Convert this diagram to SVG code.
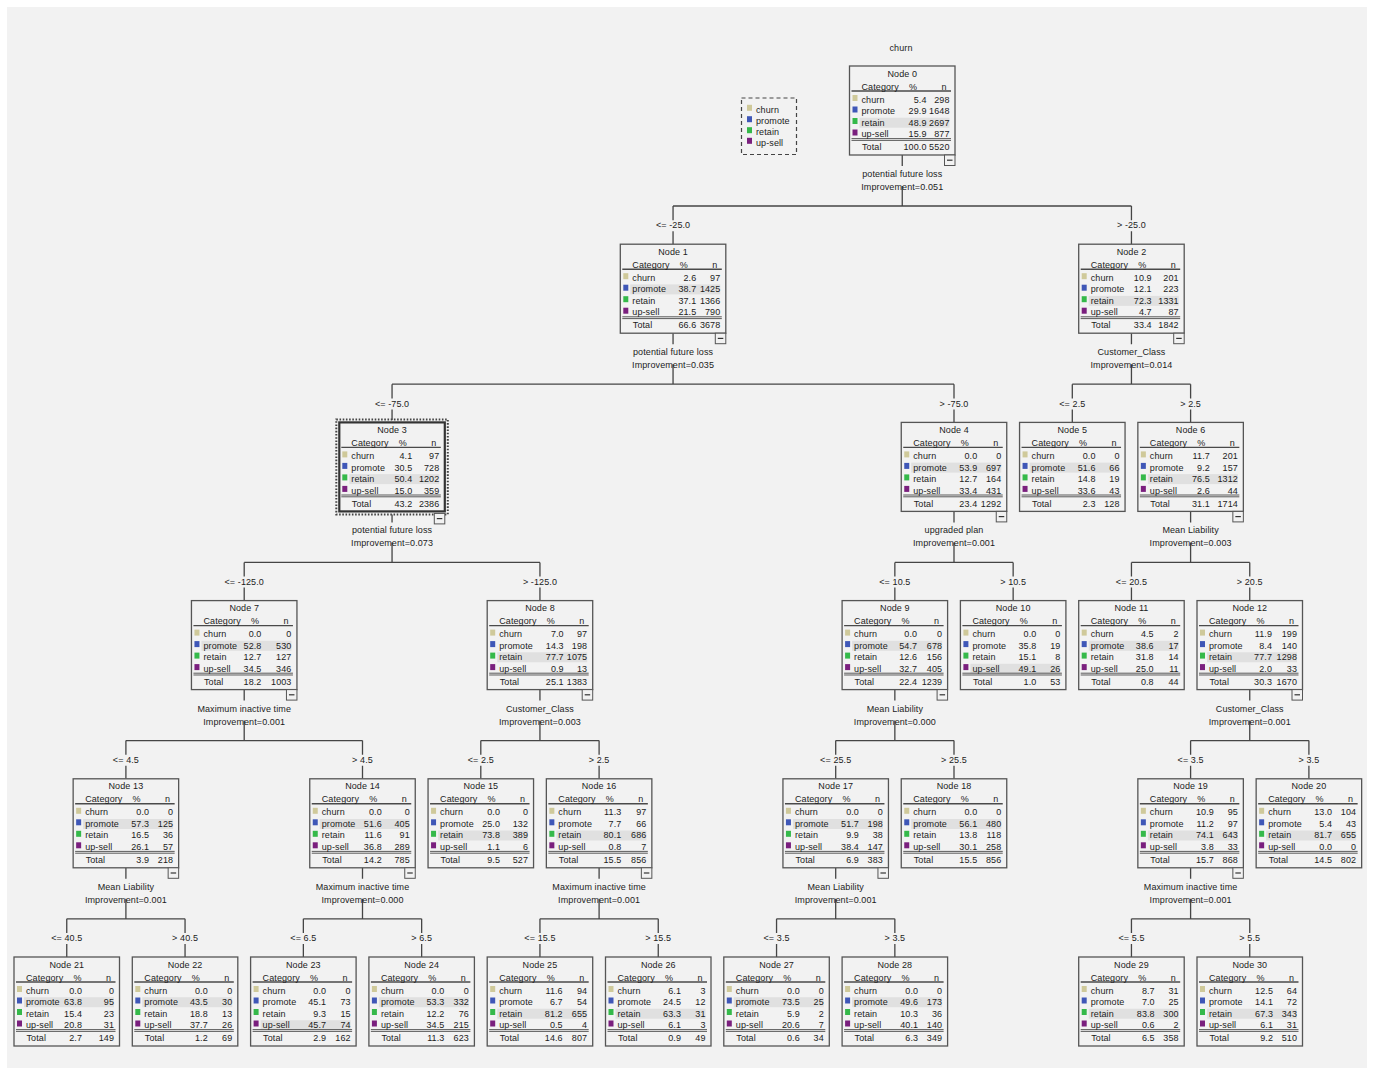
<svg xmlns="http://www.w3.org/2000/svg" xmlns:xlink="http://www.w3.org/1999/xlink" width="1373" height="1075" viewBox="0 0 1373 1075">
<style>
text { font-family: "Liberation Sans", Arial, sans-serif; font-size: 9px; fill: #1c1c1c; letter-spacing: 0.1px; }
.c { text-anchor: middle; }
.e { text-anchor: end; }
.box { fill: #f2f2f2; stroke: #555; stroke-width: 1.3; }
.hl { fill: #e0e0e0; }
.rule { stroke: #4a4a4a; stroke-width: 1.4; fill: none; }
.rule2 { stroke: #4a4a4a; stroke-width: 0.9; fill: none; }
.conn { stroke: #454545; stroke-width: 1.3; fill: none; }
.sw-churn { fill: #cfc99a; }
.sw-promote { fill: #3f57b7; }
.sw-retain { fill: #35b94a; }
.sw-upsell { fill: #7a1f7e; }
</style>
<defs>
  <g id="rules">
    <path class="rule" d="M2 25H101.5"/>
    <path class="rule2" d="M2 72.6H101.5M2 74.4H101.5"/>
  </g>
  <g id="swatches">
    <rect class="sw-churn" x="3" y="29" width="5" height="6"/>
    <rect class="sw-promote" x="3" y="40.5" width="5" height="6"/>
    <rect class="sw-retain" x="3" y="52" width="5" height="6"/>
    <rect class="sw-upsell" x="3" y="63.5" width="5" height="6"/>
  </g>
  <g id="collapse">
    <rect x="0" y="0" width="10.5" height="10.5" fill="#f2f2f2" stroke="#555" stroke-width="1"/>
    <path d="M2.5 5.2H8" stroke="#333" stroke-width="1.2"/>
  </g>
</defs>

<!-- canvas -->
<rect width="1373" height="1075" fill="#ffffff"/>
<rect x="7" y="7" width="1360" height="1061" fill="#f2f2f2"/>

<!-- title and legend -->
<text class="c" x="901" y="50.5">churn</text>
<g id="legend">
  <rect x="741.5" y="98" width="55" height="56.5" fill="none" stroke="#444" stroke-width="1.2" stroke-dasharray="4 3"/>
  <rect class="sw-churn" x="747" y="104.8" width="5" height="6"/>
  <rect class="sw-promote" x="747" y="116.2" width="5" height="6"/>
  <rect class="sw-retain" x="747" y="127.2" width="5" height="6"/>
  <rect class="sw-upsell" x="747" y="137.8" width="5" height="6"/>
  <text x="756" y="112.5">churn</text>
  <text x="756" y="123.9">promote</text>
  <text x="756" y="134.9">retain</text>
  <text x="756" y="145.5">up-sell</text>
</g>

<!-- connectors -->
<g id="connectors">
  <path class="conn" d="M902.25 155V166M902.25 186V206M673.05 206H1131.45M673.05 206V220.2M673.05 231.2V244.2M1131.45 206V220.2M1131.45 231.2V244.2"/>
  <path class="conn" d="M673.05 333.2V344.2M673.05 364.2V384.2M392.05 384.2H954M392.05 384.2V398.4M392.05 409.4V420M954 384.2V398.4M954 409.4V422.4"/>
  <path class="conn" d="M1131.45 333.2V344.2M1131.45 364.2V384.2M1072.3 384.2H1190.6M1072.3 384.2V398.4M1072.3 409.4V422.4M1190.6 384.2V398.4M1190.6 409.4V422.4"/>
  <path class="conn" d="M392.05 514.5V522.4M392.05 542.4V562.4M244.2 562.4H539.95M244.2 562.4V576.6M244.2 587.6V600.6M539.95 562.4V576.6M539.95 587.6V600.6"/>
  <path class="conn" d="M954 511.4V522.4M954 542.4V562.4M894.85 562.4H1013.15M894.85 562.4V576.6M894.85 587.6V600.6M1013.15 562.4V576.6M1013.15 587.6V600.6"/>
  <path class="conn" d="M1190.6 511.4V522.4M1190.6 542.4V562.4M1131.45 562.4H1249.75M1131.45 562.4V576.6M1131.45 587.6V600.6M1249.75 562.4V576.6M1249.75 587.6V600.6"/>
  <path class="conn" d="M244.2 689.6V700.6M244.2 720.6V740.6M125.9 740.6H362.5M125.9 740.6V754.8M125.9 765.8V778.8M362.5 740.6V754.8M362.5 765.8V778.8"/>
  <path class="conn" d="M539.95 689.6V700.6M539.95 720.6V740.6M480.8 740.6H599.1M480.8 740.6V754.8M480.8 765.8V778.8M599.1 740.6V754.8M599.1 765.8V778.8"/>
  <path class="conn" d="M894.85 689.6V700.6M894.85 720.6V740.6M835.7 740.6H954M835.7 740.6V754.8M835.7 765.8V778.8M954 740.6V754.8M954 765.8V778.8"/>
  <path class="conn" d="M1249.75 689.6V700.6M1249.75 720.6V740.6M1190.6 740.6H1308.9M1190.6 740.6V754.8M1190.6 765.8V778.8M1308.9 740.6V754.8M1308.9 765.8V778.8"/>
  <path class="conn" d="M125.9 867.8V878.8M125.9 898.8V918.8M66.75 918.8H185.05M66.75 918.8V933M66.75 944V957M185.05 918.8V933M185.05 944V957"/>
  <path class="conn" d="M362.5 867.8V878.8M362.5 898.8V918.8M303.35 918.8H421.65M303.35 918.8V933M303.35 944V957M421.65 918.8V933M421.65 944V957"/>
  <path class="conn" d="M599.1 867.8V878.8M599.1 898.8V918.8M539.95 918.8H658.25M539.95 918.8V933M539.95 944V957M658.25 918.8V933M658.25 944V957"/>
  <path class="conn" d="M835.7 867.8V878.8M835.7 898.8V918.8M776.55 918.8H894.85M776.55 918.8V933M776.55 944V957M894.85 918.8V933M894.85 944V957"/>
  <path class="conn" d="M1190.6 867.8V878.8M1190.6 898.8V918.8M1131.45 918.8H1249.75M1131.45 918.8V933M1131.45 944V957M1249.75 918.8V933M1249.75 944V957"/>
</g>

<!-- split descriptions and branch conditions -->
<g id="split-labels">
  <text class="c" x="902.25" y="177">potential future loss</text><text class="c" x="902.25" y="190">Improvement=0.051</text>
  <text class="c" x="673.05" y="355.2">potential future loss</text><text class="c" x="673.05" y="368.2">Improvement=0.035</text>
  <text class="c" x="1131.45" y="355.2">Customer_Class</text><text class="c" x="1131.45" y="368.2">Improvement=0.014</text>
  <text class="c" x="392.05" y="533.4">potential future loss</text><text class="c" x="392.05" y="546.4">Improvement=0.073</text>
  <text class="c" x="954" y="533.4">upgraded plan</text><text class="c" x="954" y="546.4">Improvement=0.001</text>
  <text class="c" x="1190.6" y="533.4">Mean Liability</text><text class="c" x="1190.6" y="546.4">Improvement=0.003</text>
  <text class="c" x="244.2" y="711.6">Maximum inactive time</text><text class="c" x="244.2" y="724.6">Improvement=0.001</text>
  <text class="c" x="539.95" y="711.6">Customer_Class</text><text class="c" x="539.95" y="724.6">Improvement=0.003</text>
  <text class="c" x="894.85" y="711.6">Mean Liability</text><text class="c" x="894.85" y="724.6">Improvement=0.000</text>
  <text class="c" x="1249.75" y="711.6">Customer_Class</text><text class="c" x="1249.75" y="724.6">Improvement=0.001</text>
  <text class="c" x="125.9" y="889.8">Mean Liability</text><text class="c" x="125.9" y="902.8">Improvement=0.001</text>
  <text class="c" x="362.5" y="889.8">Maximum inactive time</text><text class="c" x="362.5" y="902.8">Improvement=0.000</text>
  <text class="c" x="599.1" y="889.8">Maximum inactive time</text><text class="c" x="599.1" y="902.8">Improvement=0.001</text>
  <text class="c" x="835.7" y="889.8">Mean Liability</text><text class="c" x="835.7" y="902.8">Improvement=0.001</text>
  <text class="c" x="1190.6" y="889.8">Maximum inactive time</text><text class="c" x="1190.6" y="902.8">Improvement=0.001</text>
</g>
<g id="branch-labels">
  <text class="c" x="673.05" y="228.4">&lt;= -25.0</text><text class="c" x="1131.45" y="228.4">&gt; -25.0</text>
  <text class="c" x="392.05" y="406.6">&lt;= -75.0</text><text class="c" x="954" y="406.6">&gt; -75.0</text>
  <text class="c" x="1072.3" y="406.6">&lt;= 2.5</text><text class="c" x="1190.6" y="406.6">&gt; 2.5</text>
  <text class="c" x="244.2" y="584.8">&lt;= -125.0</text><text class="c" x="539.95" y="584.8">&gt; -125.0</text>
  <text class="c" x="894.85" y="584.8">&lt;= 10.5</text><text class="c" x="1013.15" y="584.8">&gt; 10.5</text>
  <text class="c" x="1131.45" y="584.8">&lt;= 20.5</text><text class="c" x="1249.75" y="584.8">&gt; 20.5</text>
  <text class="c" x="125.9" y="763">&lt;= 4.5</text><text class="c" x="362.5" y="763">&gt; 4.5</text>
  <text class="c" x="480.8" y="763">&lt;= 2.5</text><text class="c" x="599.1" y="763">&gt; 2.5</text>
  <text class="c" x="835.7" y="763">&lt;= 25.5</text><text class="c" x="954" y="763">&gt; 25.5</text>
  <text class="c" x="1190.6" y="763">&lt;= 3.5</text><text class="c" x="1308.9" y="763">&gt; 3.5</text>
  <text class="c" x="66.75" y="941.2">&lt;= 40.5</text><text class="c" x="185.05" y="941.2">&gt; 40.5</text>
  <text class="c" x="303.35" y="941.2">&lt;= 6.5</text><text class="c" x="421.65" y="941.2">&gt; 6.5</text>
  <text class="c" x="539.95" y="941.2">&lt;= 15.5</text><text class="c" x="658.25" y="941.2">&gt; 15.5</text>
  <text class="c" x="776.55" y="941.2">&lt;= 3.5</text><text class="c" x="894.85" y="941.2">&gt; 3.5</text>
  <text class="c" x="1131.45" y="941.2">&lt;= 5.5</text><text class="c" x="1249.75" y="941.2">&gt; 5.5</text>
</g>

<!-- nodes -->
<g id="node-0" transform="translate(849.5 66)">
  <rect class="box" width="105.5" height="89"/><rect class="hl" x="10" y="51.7" width="90" height="10"/>
  <use href="#rules"/><use href="#swatches"/>
  <text class="c" x="52.75" y="10.5">Node 0</text>
  <text><tspan x="12" y="23.5">Category</tspan><tspan x="12" y="36.7">churn</tspan><tspan x="12" y="48.2">promote</tspan><tspan x="12" y="59.7">retain</tspan><tspan x="12" y="71.2">up-sell</tspan><tspan x="12.5" y="84.2">Total</tspan></text>
  <text class="c"><tspan x="63.5" y="23.5">%</tspan><tspan x="94.5" y="23.5">n</tspan></text>
  <text class="e"><tspan x="77" y="36.7">5.4</tspan><tspan x="77" y="48.2">29.9</tspan><tspan x="77" y="59.7">48.9</tspan><tspan x="77" y="71.2">15.9</tspan><tspan x="77" y="84.2">100.0</tspan></text>
  <text class="e"><tspan x="100" y="36.7">298</tspan><tspan x="100" y="48.2">1648</tspan><tspan x="100" y="59.7">2697</tspan><tspan x="100" y="71.2">877</tspan><tspan x="100" y="84.2">5520</tspan></text>
  <use href="#collapse" x="95" y="89"/>
</g>
<g id="node-1" transform="translate(620.3 244.2)">
  <rect class="box" width="105.5" height="89"/><rect class="hl" x="10" y="40.2" width="90" height="10"/>
  <use href="#rules"/><use href="#swatches"/>
  <text class="c" x="52.75" y="10.5">Node 1</text>
  <text><tspan x="12" y="23.5">Category</tspan><tspan x="12" y="36.7">churn</tspan><tspan x="12" y="48.2">promote</tspan><tspan x="12" y="59.7">retain</tspan><tspan x="12" y="71.2">up-sell</tspan><tspan x="12.5" y="84.2">Total</tspan></text>
  <text class="c"><tspan x="63.5" y="23.5">%</tspan><tspan x="94.5" y="23.5">n</tspan></text>
  <text class="e"><tspan x="76" y="36.7">2.6</tspan><tspan x="76" y="48.2">38.7</tspan><tspan x="76" y="59.7">37.1</tspan><tspan x="76" y="71.2">21.5</tspan><tspan x="76" y="84.2">66.6</tspan></text>
  <text class="e"><tspan x="100" y="36.7">97</tspan><tspan x="100" y="48.2">1425</tspan><tspan x="100" y="59.7">1366</tspan><tspan x="100" y="71.2">790</tspan><tspan x="100" y="84.2">3678</tspan></text>
  <use href="#collapse" x="95" y="89"/>
</g>
<g id="node-2" transform="translate(1078.7 244.2)">
  <rect class="box" width="105.5" height="89"/><rect class="hl" x="10" y="51.7" width="90" height="10"/>
  <use href="#rules"/><use href="#swatches"/>
  <text class="c" x="52.75" y="10.5">Node 2</text>
  <text><tspan x="12" y="23.5">Category</tspan><tspan x="12" y="36.7">churn</tspan><tspan x="12" y="48.2">promote</tspan><tspan x="12" y="59.7">retain</tspan><tspan x="12" y="71.2">up-sell</tspan><tspan x="12.5" y="84.2">Total</tspan></text>
  <text class="c"><tspan x="63.5" y="23.5">%</tspan><tspan x="94.5" y="23.5">n</tspan></text>
  <text class="e"><tspan x="73" y="36.7">10.9</tspan><tspan x="73" y="48.2">12.1</tspan><tspan x="73" y="59.7">72.3</tspan><tspan x="73" y="71.2">4.7</tspan><tspan x="73" y="84.2">33.4</tspan></text>
  <text class="e"><tspan x="100" y="36.7">201</tspan><tspan x="100" y="48.2">223</tspan><tspan x="100" y="59.7">1331</tspan><tspan x="100" y="71.2">87</tspan><tspan x="100" y="84.2">1842</tspan></text>
  <use href="#collapse" x="95" y="89"/>
</g>
<g id="node-3" transform="translate(339.3 422.4)">
  <rect x="-3" y="-3" width="111.5" height="95" fill="none" stroke="#444" stroke-width="2" stroke-dasharray="1.6 1.6"/>
  <rect class="box" width="105.5" height="89" style="stroke:#333;stroke-width:2.2"/><rect class="hl" x="10" y="51.7" width="90" height="10"/>
  <use href="#rules"/><use href="#swatches"/>
  <text class="c" x="52.75" y="10.5">Node 3</text>
  <text><tspan x="12" y="23.5">Category</tspan><tspan x="12" y="36.7">churn</tspan><tspan x="12" y="48.2">promote</tspan><tspan x="12" y="59.7">retain</tspan><tspan x="12" y="71.2">up-sell</tspan><tspan x="12.5" y="84.2">Total</tspan></text>
  <text class="c"><tspan x="63.5" y="23.5">%</tspan><tspan x="94.5" y="23.5">n</tspan></text>
  <text class="e"><tspan x="73" y="36.7">4.1</tspan><tspan x="73" y="48.2">30.5</tspan><tspan x="73" y="59.7">50.4</tspan><tspan x="73" y="71.2">15.0</tspan><tspan x="73" y="84.2">43.2</tspan></text>
  <text class="e"><tspan x="100" y="36.7">97</tspan><tspan x="100" y="48.2">728</tspan><tspan x="100" y="59.7">1202</tspan><tspan x="100" y="71.2">359</tspan><tspan x="100" y="84.2">2386</tspan></text>
  <use href="#collapse" x="95" y="91"/>
</g>
<g id="node-4" transform="translate(901.25 422.4)">
  <rect class="box" width="105.5" height="89"/><rect class="hl" x="10" y="40.2" width="90" height="10"/>
  <use href="#rules"/><use href="#swatches"/>
  <text class="c" x="52.75" y="10.5">Node 4</text>
  <text><tspan x="12" y="23.5">Category</tspan><tspan x="12" y="36.7">churn</tspan><tspan x="12" y="48.2">promote</tspan><tspan x="12" y="59.7">retain</tspan><tspan x="12" y="71.2">up-sell</tspan><tspan x="12.5" y="84.2">Total</tspan></text>
  <text class="c"><tspan x="63.5" y="23.5">%</tspan><tspan x="94.5" y="23.5">n</tspan></text>
  <text class="e"><tspan x="76" y="36.7">0.0</tspan><tspan x="76" y="48.2">53.9</tspan><tspan x="76" y="59.7">12.7</tspan><tspan x="76" y="71.2">33.4</tspan><tspan x="76" y="84.2">23.4</tspan></text>
  <text class="e"><tspan x="100" y="36.7">0</tspan><tspan x="100" y="48.2">697</tspan><tspan x="100" y="59.7">164</tspan><tspan x="100" y="71.2">431</tspan><tspan x="100" y="84.2">1292</tspan></text>
  <use href="#collapse" x="95" y="89"/>
</g>
<g id="node-5" transform="translate(1019.55 422.4)">
  <rect class="box" width="105.5" height="89"/><rect class="hl" x="10" y="40.2" width="90" height="10"/>
  <use href="#rules"/><use href="#swatches"/>
  <text class="c" x="52.75" y="10.5">Node 5</text>
  <text><tspan x="12" y="23.5">Category</tspan><tspan x="12" y="36.7">churn</tspan><tspan x="12" y="48.2">promote</tspan><tspan x="12" y="59.7">retain</tspan><tspan x="12" y="71.2">up-sell</tspan><tspan x="12.5" y="84.2">Total</tspan></text>
  <text class="c"><tspan x="63.5" y="23.5">%</tspan><tspan x="94.5" y="23.5">n</tspan></text>
  <text class="e"><tspan x="76" y="36.7">0.0</tspan><tspan x="76" y="48.2">51.6</tspan><tspan x="76" y="59.7">14.8</tspan><tspan x="76" y="71.2">33.6</tspan><tspan x="76" y="84.2">2.3</tspan></text>
  <text class="e"><tspan x="100" y="36.7">0</tspan><tspan x="100" y="48.2">66</tspan><tspan x="100" y="59.7">19</tspan><tspan x="100" y="71.2">43</tspan><tspan x="100" y="84.2">128</tspan></text>
</g>
<g id="node-6" transform="translate(1137.85 422.4)">
  <rect class="box" width="105.5" height="89"/><rect class="hl" x="10" y="51.7" width="90" height="10"/>
  <use href="#rules"/><use href="#swatches"/>
  <text class="c" x="52.75" y="10.5">Node 6</text>
  <text><tspan x="12" y="23.5">Category</tspan><tspan x="12" y="36.7">churn</tspan><tspan x="12" y="48.2">promote</tspan><tspan x="12" y="59.7">retain</tspan><tspan x="12" y="71.2">up-sell</tspan><tspan x="12.5" y="84.2">Total</tspan></text>
  <text class="c"><tspan x="63.5" y="23.5">%</tspan><tspan x="94.5" y="23.5">n</tspan></text>
  <text class="e"><tspan x="72" y="36.7">11.7</tspan><tspan x="72" y="48.2">9.2</tspan><tspan x="72" y="59.7">76.5</tspan><tspan x="72" y="71.2">2.6</tspan><tspan x="72" y="84.2">31.1</tspan></text>
  <text class="e"><tspan x="100" y="36.7">201</tspan><tspan x="100" y="48.2">157</tspan><tspan x="100" y="59.7">1312</tspan><tspan x="100" y="71.2">44</tspan><tspan x="100" y="84.2">1714</tspan></text>
  <use href="#collapse" x="95" y="89"/>
</g>
<g id="node-7" transform="translate(191.45 600.6)">
  <rect class="box" width="105.5" height="89"/><rect class="hl" x="10" y="40.2" width="90" height="10"/>
  <use href="#rules"/><use href="#swatches"/>
  <text class="c" x="52.75" y="10.5">Node 7</text>
  <text><tspan x="12" y="23.5">Category</tspan><tspan x="12" y="36.7">churn</tspan><tspan x="12" y="48.2">promote</tspan><tspan x="12" y="59.7">retain</tspan><tspan x="12" y="71.2">up-sell</tspan><tspan x="12.5" y="84.2">Total</tspan></text>
  <text class="c"><tspan x="63.5" y="23.5">%</tspan><tspan x="94.5" y="23.5">n</tspan></text>
  <text class="e"><tspan x="70" y="36.7">0.0</tspan><tspan x="70" y="48.2">52.8</tspan><tspan x="70" y="59.7">12.7</tspan><tspan x="70" y="71.2">34.5</tspan><tspan x="70" y="84.2">18.2</tspan></text>
  <text class="e"><tspan x="100" y="36.7">0</tspan><tspan x="100" y="48.2">530</tspan><tspan x="100" y="59.7">127</tspan><tspan x="100" y="71.2">346</tspan><tspan x="100" y="84.2">1003</tspan></text>
  <use href="#collapse" x="95" y="89"/>
</g>
<g id="node-8" transform="translate(487.2 600.6)">
  <rect class="box" width="105.5" height="89"/><rect class="hl" x="10" y="51.7" width="90" height="10"/>
  <use href="#rules"/><use href="#swatches"/>
  <text class="c" x="52.75" y="10.5">Node 8</text>
  <text><tspan x="12" y="23.5">Category</tspan><tspan x="12" y="36.7">churn</tspan><tspan x="12" y="48.2">promote</tspan><tspan x="12" y="59.7">retain</tspan><tspan x="12" y="71.2">up-sell</tspan><tspan x="12.5" y="84.2">Total</tspan></text>
  <text class="c"><tspan x="63.5" y="23.5">%</tspan><tspan x="94.5" y="23.5">n</tspan></text>
  <text class="e"><tspan x="76.5" y="36.7">7.0</tspan><tspan x="76.5" y="48.2">14.3</tspan><tspan x="76.5" y="59.7">77.7</tspan><tspan x="76.5" y="71.2">0.9</tspan><tspan x="76.5" y="84.2">25.1</tspan></text>
  <text class="e"><tspan x="100" y="36.7">97</tspan><tspan x="100" y="48.2">198</tspan><tspan x="100" y="59.7">1075</tspan><tspan x="100" y="71.2">13</tspan><tspan x="100" y="84.2">1383</tspan></text>
  <use href="#collapse" x="95" y="89"/>
</g>
<g id="node-9" transform="translate(842.1 600.6)">
  <rect class="box" width="105.5" height="89"/><rect class="hl" x="10" y="40.2" width="90" height="10"/>
  <use href="#rules"/><use href="#swatches"/>
  <text class="c" x="52.75" y="10.5">Node 9</text>
  <text><tspan x="12" y="23.5">Category</tspan><tspan x="12" y="36.7">churn</tspan><tspan x="12" y="48.2">promote</tspan><tspan x="12" y="59.7">retain</tspan><tspan x="12" y="71.2">up-sell</tspan><tspan x="12.5" y="84.2">Total</tspan></text>
  <text class="c"><tspan x="63.5" y="23.5">%</tspan><tspan x="94.5" y="23.5">n</tspan></text>
  <text class="e"><tspan x="75" y="36.7">0.0</tspan><tspan x="75" y="48.2">54.7</tspan><tspan x="75" y="59.7">12.6</tspan><tspan x="75" y="71.2">32.7</tspan><tspan x="75" y="84.2">22.4</tspan></text>
  <text class="e"><tspan x="100" y="36.7">0</tspan><tspan x="100" y="48.2">678</tspan><tspan x="100" y="59.7">156</tspan><tspan x="100" y="71.2">405</tspan><tspan x="100" y="84.2">1239</tspan></text>
  <use href="#collapse" x="95" y="89"/>
</g>
<g id="node-10" transform="translate(960.4 600.6)">
  <rect class="box" width="105.5" height="89"/><rect class="hl" x="10" y="63.2" width="90" height="10"/>
  <use href="#rules"/><use href="#swatches"/>
  <text class="c" x="52.75" y="10.5">Node 10</text>
  <text><tspan x="12" y="23.5">Category</tspan><tspan x="12" y="36.7">churn</tspan><tspan x="12" y="48.2">promote</tspan><tspan x="12" y="59.7">retain</tspan><tspan x="12" y="71.2">up-sell</tspan><tspan x="12.5" y="84.2">Total</tspan></text>
  <text class="c"><tspan x="63.5" y="23.5">%</tspan><tspan x="94.5" y="23.5">n</tspan></text>
  <text class="e"><tspan x="76" y="36.7">0.0</tspan><tspan x="76" y="48.2">35.8</tspan><tspan x="76" y="59.7">15.1</tspan><tspan x="76" y="71.2">49.1</tspan><tspan x="76" y="84.2">1.0</tspan></text>
  <text class="e"><tspan x="100" y="36.7">0</tspan><tspan x="100" y="48.2">19</tspan><tspan x="100" y="59.7">8</tspan><tspan x="100" y="71.2">26</tspan><tspan x="100" y="84.2">53</tspan></text>
</g>
<g id="node-11" transform="translate(1078.7 600.6)">
  <rect class="box" width="105.5" height="89"/><rect class="hl" x="10" y="40.2" width="90" height="10"/>
  <use href="#rules"/><use href="#swatches"/>
  <text class="c" x="52.75" y="10.5">Node 11</text>
  <text><tspan x="12" y="23.5">Category</tspan><tspan x="12" y="36.7">churn</tspan><tspan x="12" y="48.2">promote</tspan><tspan x="12" y="59.7">retain</tspan><tspan x="12" y="71.2">up-sell</tspan><tspan x="12.5" y="84.2">Total</tspan></text>
  <text class="c"><tspan x="63.5" y="23.5">%</tspan><tspan x="94.5" y="23.5">n</tspan></text>
  <text class="e"><tspan x="75" y="36.7">4.5</tspan><tspan x="75" y="48.2">38.6</tspan><tspan x="75" y="59.7">31.8</tspan><tspan x="75" y="71.2">25.0</tspan><tspan x="75" y="84.2">0.8</tspan></text>
  <text class="e"><tspan x="100" y="36.7">2</tspan><tspan x="100" y="48.2">17</tspan><tspan x="100" y="59.7">14</tspan><tspan x="100" y="71.2">11</tspan><tspan x="100" y="84.2">44</tspan></text>
</g>
<g id="node-12" transform="translate(1197 600.6)">
  <rect class="box" width="105.5" height="89"/><rect class="hl" x="10" y="51.7" width="90" height="10"/>
  <use href="#rules"/><use href="#swatches"/>
  <text class="c" x="52.75" y="10.5">Node 12</text>
  <text><tspan x="12" y="23.5">Category</tspan><tspan x="12" y="36.7">churn</tspan><tspan x="12" y="48.2">promote</tspan><tspan x="12" y="59.7">retain</tspan><tspan x="12" y="71.2">up-sell</tspan><tspan x="12.5" y="84.2">Total</tspan></text>
  <text class="c"><tspan x="63.5" y="23.5">%</tspan><tspan x="94.5" y="23.5">n</tspan></text>
  <text class="e"><tspan x="75" y="36.7">11.9</tspan><tspan x="75" y="48.2">8.4</tspan><tspan x="75" y="59.7">77.7</tspan><tspan x="75" y="71.2">2.0</tspan><tspan x="75" y="84.2">30.3</tspan></text>
  <text class="e"><tspan x="100" y="36.7">199</tspan><tspan x="100" y="48.2">140</tspan><tspan x="100" y="59.7">1298</tspan><tspan x="100" y="71.2">33</tspan><tspan x="100" y="84.2">1670</tspan></text>
  <use href="#collapse" x="95" y="89"/>
</g>
<g id="node-13" transform="translate(73.15 778.8)">
  <rect class="box" width="105.5" height="89"/><rect class="hl" x="10" y="40.2" width="90" height="10"/>
  <use href="#rules"/><use href="#swatches"/>
  <text class="c" x="52.75" y="10.5">Node 13</text>
  <text><tspan x="12" y="23.5">Category</tspan><tspan x="12" y="36.7">churn</tspan><tspan x="12" y="48.2">promote</tspan><tspan x="12" y="59.7">retain</tspan><tspan x="12" y="71.2">up-sell</tspan><tspan x="12.5" y="84.2">Total</tspan></text>
  <text class="c"><tspan x="63.5" y="23.5">%</tspan><tspan x="94.5" y="23.5">n</tspan></text>
  <text class="e"><tspan x="76" y="36.7">0.0</tspan><tspan x="76" y="48.2">57.3</tspan><tspan x="76" y="59.7">16.5</tspan><tspan x="76" y="71.2">26.1</tspan><tspan x="76" y="84.2">3.9</tspan></text>
  <text class="e"><tspan x="100" y="36.7">0</tspan><tspan x="100" y="48.2">125</tspan><tspan x="100" y="59.7">36</tspan><tspan x="100" y="71.2">57</tspan><tspan x="100" y="84.2">218</tspan></text>
  <use href="#collapse" x="95" y="89"/>
</g>
<g id="node-14" transform="translate(309.75 778.8)">
  <rect class="box" width="105.5" height="89"/><rect class="hl" x="10" y="40.2" width="90" height="10"/>
  <use href="#rules"/><use href="#swatches"/>
  <text class="c" x="52.75" y="10.5">Node 14</text>
  <text><tspan x="12" y="23.5">Category</tspan><tspan x="12" y="36.7">churn</tspan><tspan x="12" y="48.2">promote</tspan><tspan x="12" y="59.7">retain</tspan><tspan x="12" y="71.2">up-sell</tspan><tspan x="12.5" y="84.2">Total</tspan></text>
  <text class="c"><tspan x="63.5" y="23.5">%</tspan><tspan x="94.5" y="23.5">n</tspan></text>
  <text class="e"><tspan x="72" y="36.7">0.0</tspan><tspan x="72" y="48.2">51.6</tspan><tspan x="72" y="59.7">11.6</tspan><tspan x="72" y="71.2">36.8</tspan><tspan x="72" y="84.2">14.2</tspan></text>
  <text class="e"><tspan x="100" y="36.7">0</tspan><tspan x="100" y="48.2">405</tspan><tspan x="100" y="59.7">91</tspan><tspan x="100" y="71.2">289</tspan><tspan x="100" y="84.2">785</tspan></text>
  <use href="#collapse" x="95" y="89"/>
</g>
<g id="node-15" transform="translate(428.05 778.8)">
  <rect class="box" width="105.5" height="89"/><rect class="hl" x="10" y="51.7" width="90" height="10"/>
  <use href="#rules"/><use href="#swatches"/>
  <text class="c" x="52.75" y="10.5">Node 15</text>
  <text><tspan x="12" y="23.5">Category</tspan><tspan x="12" y="36.7">churn</tspan><tspan x="12" y="48.2">promote</tspan><tspan x="12" y="59.7">retain</tspan><tspan x="12" y="71.2">up-sell</tspan><tspan x="12.5" y="84.2">Total</tspan></text>
  <text class="c"><tspan x="63.5" y="23.5">%</tspan><tspan x="94.5" y="23.5">n</tspan></text>
  <text class="e"><tspan x="72" y="36.7">0.0</tspan><tspan x="72" y="48.2">25.0</tspan><tspan x="72" y="59.7">73.8</tspan><tspan x="72" y="71.2">1.1</tspan><tspan x="72" y="84.2">9.5</tspan></text>
  <text class="e"><tspan x="100" y="36.7">0</tspan><tspan x="100" y="48.2">132</tspan><tspan x="100" y="59.7">389</tspan><tspan x="100" y="71.2">6</tspan><tspan x="100" y="84.2">527</tspan></text>
</g>
<g id="node-16" transform="translate(546.35 778.8)">
  <rect class="box" width="105.5" height="89"/><rect class="hl" x="10" y="51.7" width="90" height="10"/>
  <use href="#rules"/><use href="#swatches"/>
  <text class="c" x="52.75" y="10.5">Node 16</text>
  <text><tspan x="12" y="23.5">Category</tspan><tspan x="12" y="36.7">churn</tspan><tspan x="12" y="48.2">promote</tspan><tspan x="12" y="59.7">retain</tspan><tspan x="12" y="71.2">up-sell</tspan><tspan x="12.5" y="84.2">Total</tspan></text>
  <text class="c"><tspan x="63.5" y="23.5">%</tspan><tspan x="94.5" y="23.5">n</tspan></text>
  <text class="e"><tspan x="75" y="36.7">11.3</tspan><tspan x="75" y="48.2">7.7</tspan><tspan x="75" y="59.7">80.1</tspan><tspan x="75" y="71.2">0.8</tspan><tspan x="75" y="84.2">15.5</tspan></text>
  <text class="e"><tspan x="100" y="36.7">97</tspan><tspan x="100" y="48.2">66</tspan><tspan x="100" y="59.7">686</tspan><tspan x="100" y="71.2">7</tspan><tspan x="100" y="84.2">856</tspan></text>
  <use href="#collapse" x="95" y="89"/>
</g>
<g id="node-17" transform="translate(782.95 778.8)">
  <rect class="box" width="105.5" height="89"/><rect class="hl" x="10" y="40.2" width="90" height="10"/>
  <use href="#rules"/><use href="#swatches"/>
  <text class="c" x="52.75" y="10.5">Node 17</text>
  <text><tspan x="12" y="23.5">Category</tspan><tspan x="12" y="36.7">churn</tspan><tspan x="12" y="48.2">promote</tspan><tspan x="12" y="59.7">retain</tspan><tspan x="12" y="71.2">up-sell</tspan><tspan x="12.5" y="84.2">Total</tspan></text>
  <text class="c"><tspan x="63.5" y="23.5">%</tspan><tspan x="94.5" y="23.5">n</tspan></text>
  <text class="e"><tspan x="76" y="36.7">0.0</tspan><tspan x="76" y="48.2">51.7</tspan><tspan x="76" y="59.7">9.9</tspan><tspan x="76" y="71.2">38.4</tspan><tspan x="76" y="84.2">6.9</tspan></text>
  <text class="e"><tspan x="100" y="36.7">0</tspan><tspan x="100" y="48.2">198</tspan><tspan x="100" y="59.7">38</tspan><tspan x="100" y="71.2">147</tspan><tspan x="100" y="84.2">383</tspan></text>
  <use href="#collapse" x="95" y="89"/>
</g>
<g id="node-18" transform="translate(901.25 778.8)">
  <rect class="box" width="105.5" height="89"/><rect class="hl" x="10" y="40.2" width="90" height="10"/>
  <use href="#rules"/><use href="#swatches"/>
  <text class="c" x="52.75" y="10.5">Node 18</text>
  <text><tspan x="12" y="23.5">Category</tspan><tspan x="12" y="36.7">churn</tspan><tspan x="12" y="48.2">promote</tspan><tspan x="12" y="59.7">retain</tspan><tspan x="12" y="71.2">up-sell</tspan><tspan x="12.5" y="84.2">Total</tspan></text>
  <text class="c"><tspan x="63.5" y="23.5">%</tspan><tspan x="94.5" y="23.5">n</tspan></text>
  <text class="e"><tspan x="76" y="36.7">0.0</tspan><tspan x="76" y="48.2">56.1</tspan><tspan x="76" y="59.7">13.8</tspan><tspan x="76" y="71.2">30.1</tspan><tspan x="76" y="84.2">15.5</tspan></text>
  <text class="e"><tspan x="100" y="36.7">0</tspan><tspan x="100" y="48.2">480</tspan><tspan x="100" y="59.7">118</tspan><tspan x="100" y="71.2">258</tspan><tspan x="100" y="84.2">856</tspan></text>
</g>
<g id="node-19" transform="translate(1137.85 778.8)">
  <rect class="box" width="105.5" height="89"/><rect class="hl" x="10" y="51.7" width="90" height="10"/>
  <use href="#rules"/><use href="#swatches"/>
  <text class="c" x="52.75" y="10.5">Node 19</text>
  <text><tspan x="12" y="23.5">Category</tspan><tspan x="12" y="36.7">churn</tspan><tspan x="12" y="48.2">promote</tspan><tspan x="12" y="59.7">retain</tspan><tspan x="12" y="71.2">up-sell</tspan><tspan x="12.5" y="84.2">Total</tspan></text>
  <text class="c"><tspan x="63.5" y="23.5">%</tspan><tspan x="94.5" y="23.5">n</tspan></text>
  <text class="e"><tspan x="76" y="36.7">10.9</tspan><tspan x="76" y="48.2">11.2</tspan><tspan x="76" y="59.7">74.1</tspan><tspan x="76" y="71.2">3.8</tspan><tspan x="76" y="84.2">15.7</tspan></text>
  <text class="e"><tspan x="100" y="36.7">95</tspan><tspan x="100" y="48.2">97</tspan><tspan x="100" y="59.7">643</tspan><tspan x="100" y="71.2">33</tspan><tspan x="100" y="84.2">868</tspan></text>
  <use href="#collapse" x="95" y="89"/>
</g>
<g id="node-20" transform="translate(1256.15 778.8)">
  <rect class="box" width="105.5" height="89"/><rect class="hl" x="10" y="51.7" width="90" height="10"/>
  <use href="#rules"/><use href="#swatches"/>
  <text class="c" x="52.75" y="10.5">Node 20</text>
  <text><tspan x="12" y="23.5">Category</tspan><tspan x="12" y="36.7">churn</tspan><tspan x="12" y="48.2">promote</tspan><tspan x="12" y="59.7">retain</tspan><tspan x="12" y="71.2">up-sell</tspan><tspan x="12.5" y="84.2">Total</tspan></text>
  <text class="c"><tspan x="63.5" y="23.5">%</tspan><tspan x="94.5" y="23.5">n</tspan></text>
  <text class="e"><tspan x="76" y="36.7">13.0</tspan><tspan x="76" y="48.2">5.4</tspan><tspan x="76" y="59.7">81.7</tspan><tspan x="76" y="71.2">0.0</tspan><tspan x="76" y="84.2">14.5</tspan></text>
  <text class="e"><tspan x="100" y="36.7">104</tspan><tspan x="100" y="48.2">43</tspan><tspan x="100" y="59.7">655</tspan><tspan x="100" y="71.2">0</tspan><tspan x="100" y="84.2">802</tspan></text>
</g>
<g id="node-21" transform="translate(14 957)">
  <rect class="box" width="105.5" height="89"/><rect class="hl" x="10" y="40.2" width="90" height="10"/>
  <use href="#rules"/><use href="#swatches"/>
  <text class="c" x="52.75" y="10.5">Node 21</text>
  <text><tspan x="12" y="23.5">Category</tspan><tspan x="12" y="36.7">churn</tspan><tspan x="12" y="48.2">promote</tspan><tspan x="12" y="59.7">retain</tspan><tspan x="12" y="71.2">up-sell</tspan><tspan x="12.5" y="84.2">Total</tspan></text>
  <text class="c"><tspan x="63.5" y="23.5">%</tspan><tspan x="94.5" y="23.5">n</tspan></text>
  <text class="e"><tspan x="68" y="36.7">0.0</tspan><tspan x="68" y="48.2">63.8</tspan><tspan x="68" y="59.7">15.4</tspan><tspan x="68" y="71.2">20.8</tspan><tspan x="68" y="84.2">2.7</tspan></text>
  <text class="e"><tspan x="100" y="36.7">0</tspan><tspan x="100" y="48.2">95</tspan><tspan x="100" y="59.7">23</tspan><tspan x="100" y="71.2">31</tspan><tspan x="100" y="84.2">149</tspan></text>
</g>
<g id="node-22" transform="translate(132.3 957)">
  <rect class="box" width="105.5" height="89"/><rect class="hl" x="10" y="40.2" width="90" height="10"/>
  <use href="#rules"/><use href="#swatches"/>
  <text class="c" x="52.75" y="10.5">Node 22</text>
  <text><tspan x="12" y="23.5">Category</tspan><tspan x="12" y="36.7">churn</tspan><tspan x="12" y="48.2">promote</tspan><tspan x="12" y="59.7">retain</tspan><tspan x="12" y="71.2">up-sell</tspan><tspan x="12.5" y="84.2">Total</tspan></text>
  <text class="c"><tspan x="63.5" y="23.5">%</tspan><tspan x="94.5" y="23.5">n</tspan></text>
  <text class="e"><tspan x="75.5" y="36.7">0.0</tspan><tspan x="75.5" y="48.2">43.5</tspan><tspan x="75.5" y="59.7">18.8</tspan><tspan x="75.5" y="71.2">37.7</tspan><tspan x="75.5" y="84.2">1.2</tspan></text>
  <text class="e"><tspan x="100" y="36.7">0</tspan><tspan x="100" y="48.2">30</tspan><tspan x="100" y="59.7">13</tspan><tspan x="100" y="71.2">26</tspan><tspan x="100" y="84.2">69</tspan></text>
</g>
<g id="node-23" transform="translate(250.6 957)">
  <rect class="box" width="105.5" height="89"/><rect class="hl" x="10" y="63.2" width="90" height="10"/>
  <use href="#rules"/><use href="#swatches"/>
  <text class="c" x="52.75" y="10.5">Node 23</text>
  <text><tspan x="12" y="23.5">Category</tspan><tspan x="12" y="36.7">churn</tspan><tspan x="12" y="48.2">promote</tspan><tspan x="12" y="59.7">retain</tspan><tspan x="12" y="71.2">up-sell</tspan><tspan x="12.5" y="84.2">Total</tspan></text>
  <text class="c"><tspan x="63.5" y="23.5">%</tspan><tspan x="94.5" y="23.5">n</tspan></text>
  <text class="e"><tspan x="75.5" y="36.7">0.0</tspan><tspan x="75.5" y="48.2">45.1</tspan><tspan x="75.5" y="59.7">9.3</tspan><tspan x="75.5" y="71.2">45.7</tspan><tspan x="75.5" y="84.2">2.9</tspan></text>
  <text class="e"><tspan x="100" y="36.7">0</tspan><tspan x="100" y="48.2">73</tspan><tspan x="100" y="59.7">15</tspan><tspan x="100" y="71.2">74</tspan><tspan x="100" y="84.2">162</tspan></text>
</g>
<g id="node-24" transform="translate(368.9 957)">
  <rect class="box" width="105.5" height="89"/><rect class="hl" x="10" y="40.2" width="90" height="10"/>
  <use href="#rules"/><use href="#swatches"/>
  <text class="c" x="52.75" y="10.5">Node 24</text>
  <text><tspan x="12" y="23.5">Category</tspan><tspan x="12" y="36.7">churn</tspan><tspan x="12" y="48.2">promote</tspan><tspan x="12" y="59.7">retain</tspan><tspan x="12" y="71.2">up-sell</tspan><tspan x="12.5" y="84.2">Total</tspan></text>
  <text class="c"><tspan x="63.5" y="23.5">%</tspan><tspan x="94.5" y="23.5">n</tspan></text>
  <text class="e"><tspan x="75.5" y="36.7">0.0</tspan><tspan x="75.5" y="48.2">53.3</tspan><tspan x="75.5" y="59.7">12.2</tspan><tspan x="75.5" y="71.2">34.5</tspan><tspan x="75.5" y="84.2">11.3</tspan></text>
  <text class="e"><tspan x="100" y="36.7">0</tspan><tspan x="100" y="48.2">332</tspan><tspan x="100" y="59.7">76</tspan><tspan x="100" y="71.2">215</tspan><tspan x="100" y="84.2">623</tspan></text>
</g>
<g id="node-25" transform="translate(487.2 957)">
  <rect class="box" width="105.5" height="89"/><rect class="hl" x="10" y="51.7" width="90" height="10"/>
  <use href="#rules"/><use href="#swatches"/>
  <text class="c" x="52.75" y="10.5">Node 25</text>
  <text><tspan x="12" y="23.5">Category</tspan><tspan x="12" y="36.7">churn</tspan><tspan x="12" y="48.2">promote</tspan><tspan x="12" y="59.7">retain</tspan><tspan x="12" y="71.2">up-sell</tspan><tspan x="12.5" y="84.2">Total</tspan></text>
  <text class="c"><tspan x="63.5" y="23.5">%</tspan><tspan x="94.5" y="23.5">n</tspan></text>
  <text class="e"><tspan x="75.5" y="36.7">11.6</tspan><tspan x="75.5" y="48.2">6.7</tspan><tspan x="75.5" y="59.7">81.2</tspan><tspan x="75.5" y="71.2">0.5</tspan><tspan x="75.5" y="84.2">14.6</tspan></text>
  <text class="e"><tspan x="100" y="36.7">94</tspan><tspan x="100" y="48.2">54</tspan><tspan x="100" y="59.7">655</tspan><tspan x="100" y="71.2">4</tspan><tspan x="100" y="84.2">807</tspan></text>
</g>
<g id="node-26" transform="translate(605.5 957)">
  <rect class="box" width="105.5" height="89"/><rect class="hl" x="10" y="51.7" width="90" height="10"/>
  <use href="#rules"/><use href="#swatches"/>
  <text class="c" x="52.75" y="10.5">Node 26</text>
  <text><tspan x="12" y="23.5">Category</tspan><tspan x="12" y="36.7">churn</tspan><tspan x="12" y="48.2">promote</tspan><tspan x="12" y="59.7">retain</tspan><tspan x="12" y="71.2">up-sell</tspan><tspan x="12.5" y="84.2">Total</tspan></text>
  <text class="c"><tspan x="63.5" y="23.5">%</tspan><tspan x="94.5" y="23.5">n</tspan></text>
  <text class="e"><tspan x="75.5" y="36.7">6.1</tspan><tspan x="75.5" y="48.2">24.5</tspan><tspan x="75.5" y="59.7">63.3</tspan><tspan x="75.5" y="71.2">6.1</tspan><tspan x="75.5" y="84.2">0.9</tspan></text>
  <text class="e"><tspan x="100" y="36.7">3</tspan><tspan x="100" y="48.2">12</tspan><tspan x="100" y="59.7">31</tspan><tspan x="100" y="71.2">3</tspan><tspan x="100" y="84.2">49</tspan></text>
</g>
<g id="node-27" transform="translate(723.8 957)">
  <rect class="box" width="105.5" height="89"/><rect class="hl" x="10" y="40.2" width="90" height="10"/>
  <use href="#rules"/><use href="#swatches"/>
  <text class="c" x="52.75" y="10.5">Node 27</text>
  <text><tspan x="12" y="23.5">Category</tspan><tspan x="12" y="36.7">churn</tspan><tspan x="12" y="48.2">promote</tspan><tspan x="12" y="59.7">retain</tspan><tspan x="12" y="71.2">up-sell</tspan><tspan x="12.5" y="84.2">Total</tspan></text>
  <text class="c"><tspan x="63.5" y="23.5">%</tspan><tspan x="94.5" y="23.5">n</tspan></text>
  <text class="e"><tspan x="76" y="36.7">0.0</tspan><tspan x="76" y="48.2">73.5</tspan><tspan x="76" y="59.7">5.9</tspan><tspan x="76" y="71.2">20.6</tspan><tspan x="76" y="84.2">0.6</tspan></text>
  <text class="e"><tspan x="100" y="36.7">0</tspan><tspan x="100" y="48.2">25</tspan><tspan x="100" y="59.7">2</tspan><tspan x="100" y="71.2">7</tspan><tspan x="100" y="84.2">34</tspan></text>
</g>
<g id="node-28" transform="translate(842.1 957)">
  <rect class="box" width="105.5" height="89"/><rect class="hl" x="10" y="40.2" width="90" height="10"/>
  <use href="#rules"/><use href="#swatches"/>
  <text class="c" x="52.75" y="10.5">Node 28</text>
  <text><tspan x="12" y="23.5">Category</tspan><tspan x="12" y="36.7">churn</tspan><tspan x="12" y="48.2">promote</tspan><tspan x="12" y="59.7">retain</tspan><tspan x="12" y="71.2">up-sell</tspan><tspan x="12.5" y="84.2">Total</tspan></text>
  <text class="c"><tspan x="63.5" y="23.5">%</tspan><tspan x="94.5" y="23.5">n</tspan></text>
  <text class="e"><tspan x="76" y="36.7">0.0</tspan><tspan x="76" y="48.2">49.6</tspan><tspan x="76" y="59.7">10.3</tspan><tspan x="76" y="71.2">40.1</tspan><tspan x="76" y="84.2">6.3</tspan></text>
  <text class="e"><tspan x="100" y="36.7">0</tspan><tspan x="100" y="48.2">173</tspan><tspan x="100" y="59.7">36</tspan><tspan x="100" y="71.2">140</tspan><tspan x="100" y="84.2">349</tspan></text>
</g>
<g id="node-29" transform="translate(1078.7 957)">
  <rect class="box" width="105.5" height="89"/><rect class="hl" x="10" y="51.7" width="90" height="10"/>
  <use href="#rules"/><use href="#swatches"/>
  <text class="c" x="52.75" y="10.5">Node 29</text>
  <text><tspan x="12" y="23.5">Category</tspan><tspan x="12" y="36.7">churn</tspan><tspan x="12" y="48.2">promote</tspan><tspan x="12" y="59.7">retain</tspan><tspan x="12" y="71.2">up-sell</tspan><tspan x="12.5" y="84.2">Total</tspan></text>
  <text class="c"><tspan x="63.5" y="23.5">%</tspan><tspan x="94.5" y="23.5">n</tspan></text>
  <text class="e"><tspan x="76" y="36.7">8.7</tspan><tspan x="76" y="48.2">7.0</tspan><tspan x="76" y="59.7">83.8</tspan><tspan x="76" y="71.2">0.6</tspan><tspan x="76" y="84.2">6.5</tspan></text>
  <text class="e"><tspan x="100" y="36.7">31</tspan><tspan x="100" y="48.2">25</tspan><tspan x="100" y="59.7">300</tspan><tspan x="100" y="71.2">2</tspan><tspan x="100" y="84.2">358</tspan></text>
</g>
<g id="node-30" transform="translate(1197 957)">
  <rect class="box" width="105.5" height="89"/><rect class="hl" x="10" y="51.7" width="90" height="10"/>
  <use href="#rules"/><use href="#swatches"/>
  <text class="c" x="52.75" y="10.5">Node 30</text>
  <text><tspan x="12" y="23.5">Category</tspan><tspan x="12" y="36.7">churn</tspan><tspan x="12" y="48.2">promote</tspan><tspan x="12" y="59.7">retain</tspan><tspan x="12" y="71.2">up-sell</tspan><tspan x="12.5" y="84.2">Total</tspan></text>
  <text class="c"><tspan x="63.5" y="23.5">%</tspan><tspan x="94.5" y="23.5">n</tspan></text>
  <text class="e"><tspan x="76" y="36.7">12.5</tspan><tspan x="76" y="48.2">14.1</tspan><tspan x="76" y="59.7">67.3</tspan><tspan x="76" y="71.2">6.1</tspan><tspan x="76" y="84.2">9.2</tspan></text>
  <text class="e"><tspan x="100" y="36.7">64</tspan><tspan x="100" y="48.2">72</tspan><tspan x="100" y="59.7">343</tspan><tspan x="100" y="71.2">31</tspan><tspan x="100" y="84.2">510</tspan></text>
</g>
</svg>
